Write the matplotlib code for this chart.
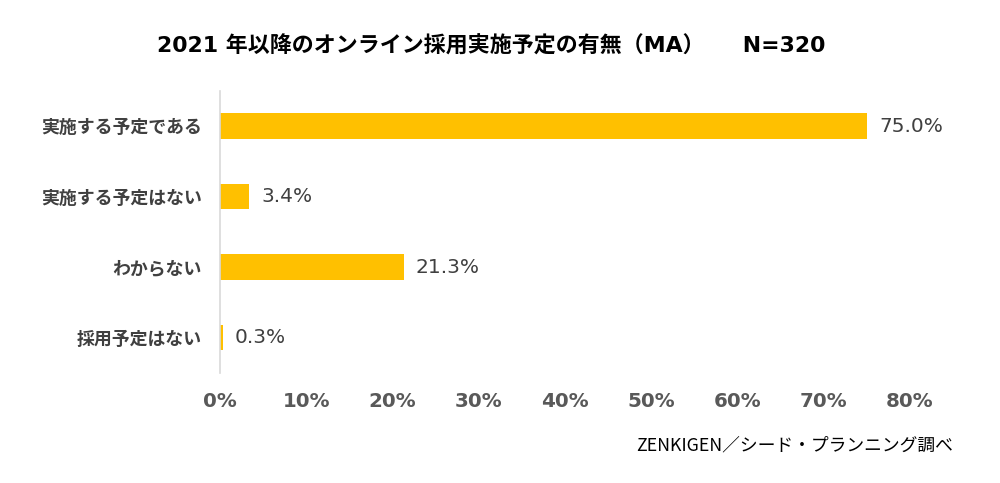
import matplotlib
matplotlib.use("Agg")
import matplotlib.pyplot as plt

plt.rcParams['font.family'] = ['Noto Sans CJK JP', 'DejaVu Sans']

categories = ['実施する予定である', '実施する予定はない', 'わからない', '採用予定はない']
values = [75.0, 3.4, 21.3, 0.3]
ticks = [0, 10, 20, 30, 40, 50, 60, 70, 80]
tick_labels = ['0%', '10%', '20%', '30%', '40%', '50%', '60%', '70%', '80%']

latin = ['DejaVu Sans', 'Noto Sans CJK JP']

fig = plt.figure(figsize=(10, 4.83), dpi=100)
ax = fig.add_axes([0.22, 0.228, 0.69, 0.584])

pos = list(range(len(categories)))
ax.barh(pos, values, height=0.36, color='#FFC000')
for p, v in zip(pos, values):
    ax.text(v + 1.4, p, f'{v:.1f}%', va='center', ha='left',
            fontsize=14.5, color='#404040', family=latin)

ax.set_xlim(0, 80)
ax.set_ylim(3.5, -0.5)
ax.set_yticks(pos)
ax.set_yticklabels(categories, fontsize=12.9, fontweight='bold', color='#404040')
ax.set_xticks(ticks)
ax.set_xticklabels(tick_labels, fontsize=14.3, fontweight='bold', color='#595959',
                   family=latin)
ax.tick_params(axis='both', length=0)
ax.tick_params(axis='y', pad=13)
ax.tick_params(axis='x', pad=14)

for s in ['top', 'right', 'bottom']:
    ax.spines[s].set_visible(False)
ax.spines['left'].set_color('#D9D9D9')
ax.spines['left'].set_linewidth(1.2)

fig.text(0.491, 0.905, '2021 年以降のオンライン採用実施予定の有無（MA）     N=320',
         ha='center', va='center', fontsize=15.8, fontweight='bold', color='black',
         family=latin)
fig.text(0.953, 0.078, 'ZENKIGEN／シード・プランニング調べ',
         ha='right', va='center', fontsize=12.8, color='black')

fig.savefig('out.png', dpi=100)
